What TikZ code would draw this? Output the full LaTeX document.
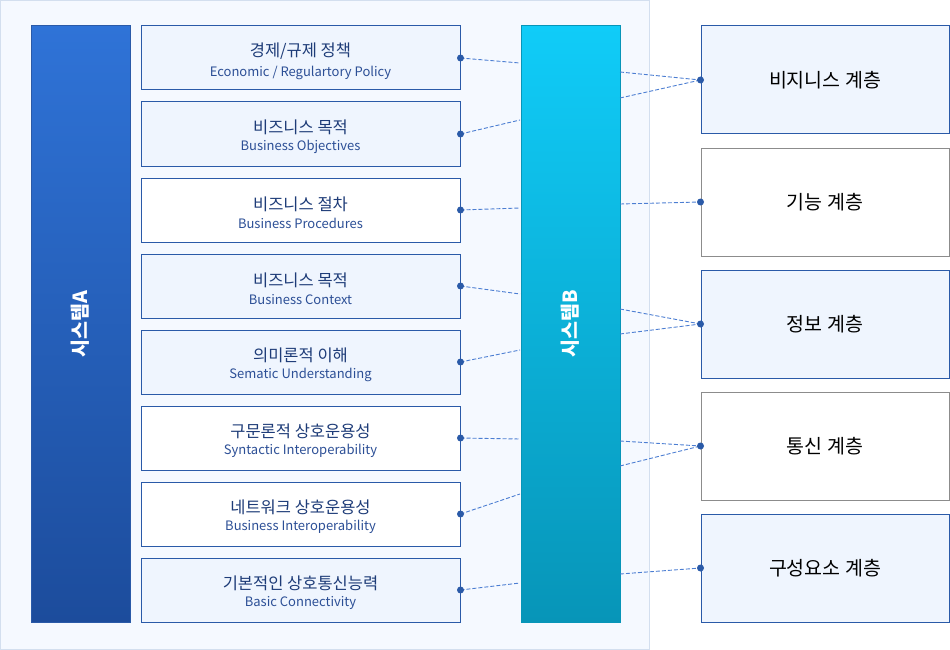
\documentclass[tikz,border=0pt]{standalone}
\usepackage{fontspec}
\setmainfont{Noto Sans CJK KR}
\usepackage{xcolor}
\definecolor{panelbg}{HTML}{F5F9FF}
\definecolor{panelline}{HTML}{D3DFEF}
\definecolor{boxline}{HTML}{2A5AA8}
\definecolor{boxfill}{HTML}{EFF5FE}
\definecolor{titletext}{HTML}{1E3C78}
\definecolor{subtext}{HTML}{2C4F96}
\definecolor{greyline}{HTML}{8C8C8C}
\definecolor{dashblue}{HTML}{4C7ED2}
\definecolor{sysAtop}{HTML}{2F73D7}
\definecolor{sysAbot}{HTML}{1C4C9C}
\definecolor{sysBtop}{HTML}{10CCF8}
\definecolor{sysBbot}{HTML}{0795B8}

\newcommand{\layertext}[2]{{\color{titletext}\fontsize{16.5}{18}\selectfont\rule{0pt}{19.5pt}#1}\\[5.5pt]{\color{subtext}\fontsize{13}{14}\selectfont #2}}

\tikzset{
	layerbox/.style={draw=boxline,line width=1pt,minimum width=319pt,minimum height=64pt,inner sep=0pt,anchor=north west,align=center},
	bluebox/.style={layerbox,fill=boxfill},
	whitebox/.style={layerbox,fill=white},
	tierbox/.style={draw=boxline,line width=1pt,fill=boxfill,minimum width=248pt,minimum height=108pt,inner sep=0pt,anchor=north west,font=\fontsize{19.5}{21}\selectfont},
	plaintier/.style={tierbox,draw=greyline,fill=white},
	sysbar/.style={minimum width=99pt,minimum height=596pt,inner sep=0pt,anchor=north west,line width=1pt},
	syslabel/.style={rotate=90,text=white,font=\fontsize{19.5}{21}\selectfont\bfseries},
	joint/.style={circle,fill=boxline,inner sep=0pt,minimum size=7pt},
	link/.style={dashblue,dash pattern=on 4pt off 2pt,line width=0.9pt}
}

\begin{document}
\begin{tikzpicture}[x=1pt,y=-1pt]
	\useasboundingbox (0,0) rectangle (950,650);
	% background panel
	\draw[panelline,fill=panelbg] (0.5,0.5) rectangle (649.5,649.5);

	% system bars
	\node(sysA) at (30.5,25.5)[sysbar,top color=sysAtop,bottom color=sysAbot,draw=boxline]{};
	\node(sysAlabel) at (sysA.center)[syslabel]{시스템A};
	\node(sysB) at (520.5,25.5)[sysbar,top color=sysBtop,bottom color=sysBbot,draw=sysBbot]{};
	\node(sysBlabel) at (sysB.center)[syslabel]{시스템B};

	% left boxes
	\node(box1) at (140.5,25.5)[bluebox]{\layertext{경제/규제 정책}{Economic / Regulartory Policy}};
	\node(box2) at (140.5,101.5)[bluebox]{\layertext{비즈니스 목적}{Business Objectives}};
	\node(box3) at (140.5,177.5)[whitebox]{\layertext{비즈니스 절차}{Business Procedures}};
	\node(box4) at (140.5,253.5)[bluebox]{\layertext{비즈니스 목적}{Business Context}};
	\node(box5) at (140.5,329.5)[bluebox]{\layertext{의미론적 이해}{Sematic Understanding}};
	\node(box6) at (140.5,405.5)[whitebox]{\layertext{구문론적 상호운용성}{Syntactic Interoperability}};
	\node(box7) at (140.5,481.5)[whitebox]{\layertext{네트워크 상호운용성}{Business Interoperability}};
	\node(box8) at (140.5,557.5)[bluebox]{\layertext{기본적인 상호통신능력}{Basic Connectivity}};

	% right boxes
	\node(tier1) at (700.5,25.5)[tierbox]{비지니스 계층};
	\node(tier2) at (700.5,147.5)[plaintier]{기능 계층};
	\node(tier3) at (700.5,269.5)[tierbox]{정보 계층};
	\node(tier4) at (700.5,391.5)[plaintier]{통신 계층};
	\node(tier5) at (700.5,513.5)[tierbox]{구성요소 계층};

	% ends on system B
	\coordinate(b1) at (520,63);
	\coordinate(b2) at (520,120);
	\coordinate(b3) at (520,208);
	\coordinate(b4) at (520,294);
	\coordinate(b5) at (520,350);
	\coordinate(b6) at (520,439);
	\coordinate(b7) at (520,494);
	\coordinate(b8) at (520,583);
	\coordinate(c1) at (620,72);
	\coordinate(c2) at (620,98);
	\coordinate(c3) at (620,204);
	\coordinate(c4) at (620,309);
	\coordinate(c5) at (620,334);
	\coordinate(c6) at (620,441);
	\coordinate(c7) at (620,466);
	\coordinate(c8) at (620,574);

	% dashed links
	\draw[link] (box1.east) -- (b1);
	\draw[link] (box2.east) -- (b2);
	\draw[link] (box3.east) -- (b3);
	\draw[link] (box4.east) -- (b4);
	\draw[link] (box5.east) -- (b5);
	\draw[link] (box6.east) -- (b6);
	\draw[link] (box7.east) -- (b7);
	\draw[link] (box8.east) -- (b8);
	\draw[link] (c1) -- (tier1.west);
	\draw[link] (c2) -- (tier1.west);
	\draw[link] (c3) -- (tier2.west);
	\draw[link] (c4) -- (tier3.west);
	\draw[link] (c5) -- (tier3.west);
	\draw[link] (c6) -- (tier4.west);
	\draw[link] (c7) -- (tier4.west);
	\draw[link] (c8) -- (tier5.west);

	% dots
	\node(p1) at (box1.east)[joint]{};
	\node(p2) at (box2.east)[joint]{};
	\node(p3) at (box3.east)[joint]{};
	\node(p4) at (box4.east)[joint]{};
	\node(p5) at (box5.east)[joint]{};
	\node(p6) at (box6.east)[joint]{};
	\node(p7) at (box7.east)[joint]{};
	\node(p8) at (box8.east)[joint]{};
	\node(q1) at (tier1.west)[joint]{};
	\node(q2) at (tier2.west)[joint]{};
	\node(q3) at (tier3.west)[joint]{};
	\node(q4) at (tier4.west)[joint]{};
	\node(q5) at (tier5.west)[joint]{};
\end{tikzpicture}
\end{document}
